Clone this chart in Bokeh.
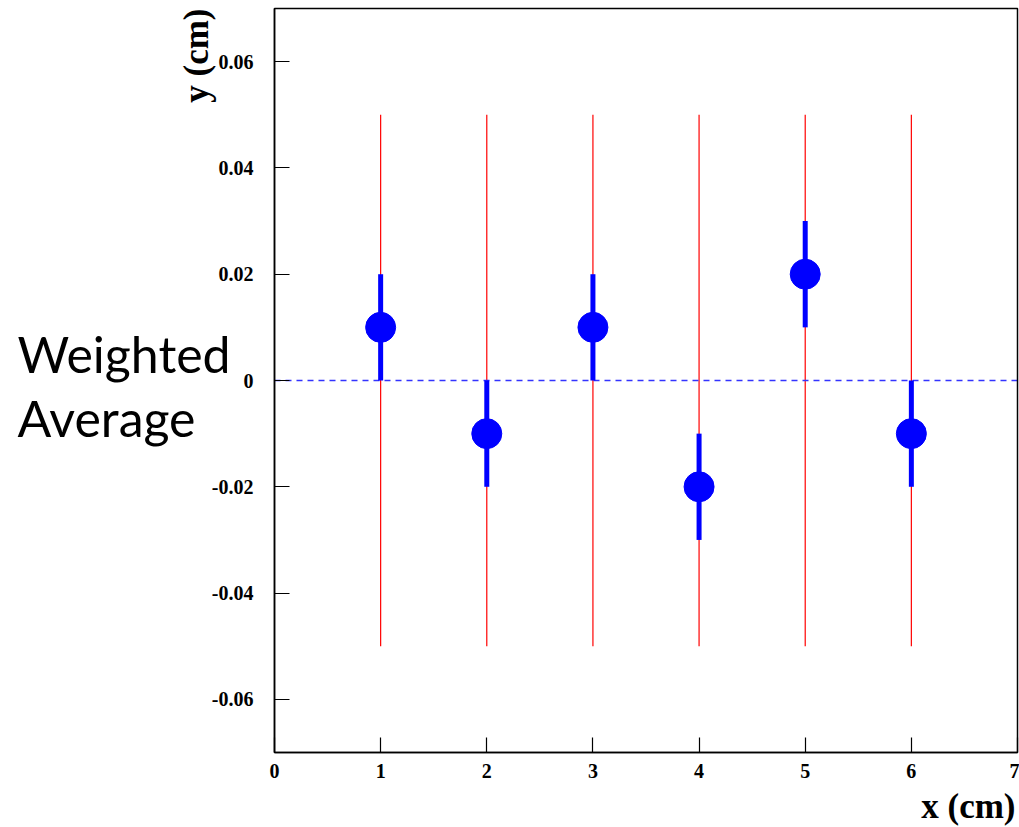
import math
from bokeh.plotting import figure
from bokeh.models import ColumnDataSource, Label, FixedTicker, CustomJSTickFormatter, Range1d, BoxAnnotation
from bokeh.embed import file_html
from bokeh.resources import INLINE

# ---- data ----
x_vals = [1, 2, 3, 4, 5, 6]
y_vals = [0.01, -0.01, 0.01, -0.02, 0.02, -0.01]
y_errs = [0.01, 0.01, 0.01, 0.01, 0.01, 0.01]
band_lo = [-0.05, -0.05, -0.05, -0.05, -0.05, -0.05]
band_hi = [0.05, 0.05, 0.05, 0.05, 0.05, 0.05]
x_ticks = [0, 1, 2, 3, 4, 5, 6, 7]
y_ticks = [-0.06, -0.04, -0.02, 0, 0.02, 0.04, 0.06]
x_lim = (0, 7)
y_lim = (-0.07, 0.07)
zero_level = 0

# ---- canvas geometry (pixels) ----
W, H = 1019, 827
AX_LEFT, AX_RIGHT, AX_TOP, AX_BOTTOM = 274, 1017, 8, 752
sx = (AX_RIGHT - AX_LEFT) / (x_lim[1] - x_lim[0])
sy = (AX_BOTTOM - AX_TOP) / (y_lim[1] - y_lim[0])
xr = Range1d(x_lim[0] - AX_LEFT / sx, x_lim[1] + (W - AX_RIGHT) / sx)
yr = Range1d(y_lim[0] - (H - AX_BOTTOM) / sy, y_lim[1] + AX_TOP / sy)


def px2x(px):
    return x_lim[0] + (px - AX_LEFT) / sx


def py2y(py):
    return y_lim[0] + (AX_BOTTOM - py) / sy


src = ColumnDataSource(dict(
    x=x_vals, y=y_vals,
    ylo=[v - e for v, e in zip(y_vals, y_errs)],
    yhi=[v + e for v, e in zip(y_vals, y_errs)],
    blo=band_lo, bhi=band_hi,
))

p = figure(width=W, height=H, output_backend="svg", toolbar_location=None,
           x_range=xr, y_range=yr,
           min_border_left=0, min_border_right=0, min_border_top=0, min_border_bottom=0)
p.background_fill_color = "white"
p.border_fill_color = "white"
p.grid.visible = False
p.outline_line_color = None

serif = "Liberation Serif"
for ax in (p.xaxis[0], p.yaxis[0]):
    ax.axis_line_color = "black"
    ax.axis_line_width = 1.5
    ax.major_tick_line_color = "black"
    ax.major_tick_line_width = 1.2
    ax.major_tick_in = 15
    ax.major_tick_out = 0
    ax.minor_tick_line_color = None
    ax.major_label_text_font = serif
    ax.major_label_text_font_style = "bold"
    ax.major_label_text_font_size = "20px"
    ax.major_label_text_color = "black"

p.xaxis[0].fixed_location = y_lim[0]
p.xaxis[0].bounds = x_lim
p.yaxis[0].fixed_location = x_lim[0]
p.yaxis[0].bounds = y_lim
p.xaxis[0].ticker = FixedTicker(ticks=x_ticks)
p.yaxis[0].ticker = FixedTicker(ticks=y_ticks)
p.xaxis[0].major_label_standoff = 11
p.yaxis[0].major_label_standoff = 21
p.yaxis[0].formatter = CustomJSTickFormatter(
    code="return Math.abs(tick) < 1e-9 ? '0' : tick.toFixed(2);")
p.xaxis[0].formatter = CustomJSTickFormatter(code="return Math.round(tick).toString();")

# plot box
p.add_layout(BoxAnnotation(left=x_lim[0], right=x_lim[1], bottom=y_lim[0], top=y_lim[1],
                           fill_alpha=0, line_color="black", line_alpha=1.0, line_width=1.5))

# red vertical range lines
p.segment(x0="x", y0="blo", x1="x", y1="bhi", source=src, line_color="#ff0000", line_width=1.2)

# zero dashed line
p.segment(x0=[x_lim[0]], y0=[zero_level], x1=[x_lim[1]], y1=[zero_level],
          line_color="#3333ff", line_width=1.5, line_dash="6 5")

# error bars and points
p.segment(x0="x", y0="ylo", x1="x", y1="yhi", source=src, line_color="#0000ff", line_width=5)
p.scatter(x="x", y="y", source=src, size=30, fill_color="#0000ff", line_color="#0000ff",
          marker="circle")

# axis titles
p.add_layout(Label(x=px2x(1015), y=py2y(806), text="x (cm)", text_align="right",
                   text_baseline="alphabetic",
                   text_font=serif, text_font_style="bold", text_font_size="35px",
                   text_color="black"))
p.add_layout(Label(x=px2x(196), y=py2y(8), text="y (cm)", angle=math.pi / 2, text_align="right",
                   text_baseline="alphabetic",
                   text_font=serif, text_font_style="bold", text_font_size="35px",
                   text_color="black"))

# side text
p.add_layout(Label(x=px2x(17), y=py2y(353), text="Weighted", text_align="left",
                   text_baseline="alphabetic", text_font="Lato", text_font_size="50px",
                   text_color="black"))
p.add_layout(Label(x=px2x(17), y=py2y(417), text="Average", text_align="left",
                   text_baseline="alphabetic", text_font="Lato", text_font_size="50px",
                   text_color="black"))

open("out.html", "w").write(file_html(p, INLINE))
